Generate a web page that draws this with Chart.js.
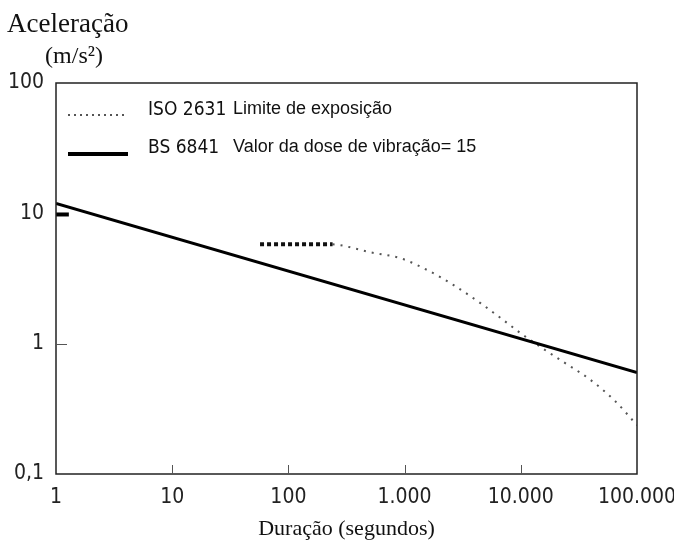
<!DOCTYPE html>
<html>
<head>
<meta charset="utf-8">
<script src="https://cdn.jsdelivr.net/npm/chart.js@4.4.0/dist/chart.umd.min.js"></script>
<style>
html,body{margin:0;padding:0;background:#fff}
#wrap{width:674px;height:544px}
</style>
</head>
<body>
<div id="wrap"><canvas id="grafico"></canvas></div>
<script>
// dados (escala log-log)
var duracaoBS = [1, 100000];
var aceleracaoBS = [11.9, 0.6];

var duracaoISOcheia = [57, 240];
var aceleracaoISOcheia = [5.78, 5.78];

var duracaoISO = [240, 281, 509, 924, 1578, 2644, 4521, 6725, 10000, 14870, 23490, 37840, 63400, 100000];
var aceleracaoISO = [5.78, 5.69, 5.02, 4.52, 3.66, 2.81, 2.04, 1.57, 1.20, 0.94, 0.72, 0.545, 0.37, 0.237];

var marcaX = [1, 1.29];
var marcaY = [9.8, 9.8];

var xTicks = [1, 10, 100, 1000, 10000, 100000];
var xLabels = ['1', '10', '100', '1.000', '10.000', '100.000'];
var yTicks = [0.1, 1, 10, 100];
var yLabels = ['0,1', '1', '10', '100'];

var legendaCodigos = ['ISO 2631', 'BS 6841'];
var legendaTextos = ['Limite de exposição', 'Valor da dose de vibração= 15'];

function pontos(xs, ys) {
  return xs.map(function (x, i) { return {x: x, y: ys[i]}; });
}

var fonteEstreita = '"Liberation Sans Narrow", "DejaVu Sans Condensed", sans-serif';
var fonteSerif = '"Liberation Serif", "Times New Roman", serif';

var extras = {
  id: 'extras',
  afterDraw: function (chart) {
    var c = chart.ctx, a = chart.chartArea;
    var sx = chart.scales.x, sy = chart.scales.y;
    c.save();
    // moldura
    c.strokeStyle = '#222';
    c.lineWidth = 1.5;
    c.strokeRect(a.left, a.top, a.right - a.left, a.bottom - a.top);
    // marcas internas
    c.lineWidth = 1;
    c.strokeStyle = '#555';
    [10, 100, 1000, 10000].forEach(function (v) {
      var px = Math.round(sx.getPixelForValue(v)) + 0.5;
      c.beginPath(); c.moveTo(px, a.bottom); c.lineTo(px, a.bottom - 9); c.stroke();
    });
    var py1 = Math.round(sy.getPixelForValue(1)) + 0.5;
    c.beginPath(); c.moveTo(a.left, py1); c.lineTo(a.left + 11, py1); c.stroke();

    // legenda
    var y1 = a.top + 32, y2 = a.top + 71;
    c.strokeStyle = '#555';
    c.lineWidth = 2;
    c.setLineDash([2, 4]);
    c.beginPath(); c.moveTo(a.left + 12, y1); c.lineTo(a.left + 72, y1); c.stroke();
    c.setLineDash([]);
    c.strokeStyle = '#000';
    c.lineWidth = 4;
    c.beginPath(); c.moveTo(a.left + 12, y2); c.lineTo(a.left + 72, y2); c.stroke();
    c.fillStyle = '#111';
    c.textBaseline = 'middle';
    c.textAlign = 'left';
    c.font = '19px ' + fonteEstreita;
    c.fillText(legendaCodigos[0], a.left + 92, y1 - 5);
    c.fillText(legendaCodigos[1], a.left + 92, y2 - 6);
    c.font = '18px "Liberation Sans", Arial, sans-serif';
    c.fillText(legendaTextos[0], a.left + 177, y1 - 6);
    c.fillText(legendaTextos[1], a.left + 177, y2 - 7);

    // titulo do eixo y
    c.font = '27px ' + fonteSerif;
    c.textAlign = 'left';
    c.fillText('Aceleração', 7, 25);
    c.font = '24px ' + fonteSerif;
    c.textAlign = 'center';
    c.fillText('(m/s²)', 74, 57);
    c.restore();
  }
};

var ctx = document.getElementById('grafico').getContext('2d');
var grafico = new Chart(ctx, {
  type: 'scatter',
  data: {
    datasets: [
      {
        label: 'BS 6841',
        data: pontos(duracaoBS, aceleracaoBS),
        showLine: true,
        borderColor: '#000',
        borderWidth: 3,
        pointRadius: 0
      },
      {
        label: 'ISO 2631 (patamar)',
        data: pontos(duracaoISOcheia, aceleracaoISOcheia),
        showLine: true,
        borderColor: '#111',
        borderWidth: 4,
        borderDash: [4, 3],
        pointRadius: 0
      },
      {
        label: 'ISO 2631',
        data: pontos(duracaoISO, aceleracaoISO),
        showLine: true,
        borderColor: '#555',
        borderWidth: 2,
        borderDash: [2, 6],
        cubicInterpolationMode: 'monotone',
        pointRadius: 0
      },
      {
        label: 'marca',
        data: pontos(marcaX, marcaY),
        showLine: true,
        borderColor: '#000',
        borderWidth: 4,
        pointRadius: 0
      }
    ]
  },
  options: {
    responsive: true,
    maintainAspectRatio: false,
    animation: false,
    layout: {padding: {left: 0, top: 83, right: 37, bottom: 0}},
    plugins: {legend: {display: false}, tooltip: {enabled: false}},
    scales: {
      x: {
        type: 'logarithmic',
        min: 1,
        max: 100000,
        afterBuildTicks: function (s) { s.ticks = xTicks.map(function (v) { return {value: v}; }); },
        afterFit: function (s) { s.height = 70; s.paddingLeft = 0; s.paddingRight = 0; },
        grid: {display: false, drawTicks: false},
        border: {display: false},
        ticks: {
          autoSkip: false,
          maxRotation: 0,
          padding: 11,
          color: '#222',
          font: {family: fonteEstreita, size: 21},
          callback: function (v) { var i = xTicks.indexOf(v); return i < 0 ? '' : xLabels[i]; }
        },
        title: {
          display: true,
          text: 'Duração (segundos)',
          color: '#111',
          font: {family: fonteSerif, size: 22},
          padding: {top: 2, bottom: 2}
        }
      },
      y: {
        type: 'logarithmic',
        min: 0.1,
        max: 100,
        afterBuildTicks: function (s) { s.ticks = yTicks.map(function (v) { return {value: v}; }); },
        afterFit: function (s) { s.width = 56; },
        grid: {display: false, drawTicks: false},
        border: {display: false},
        ticks: {
          autoSkip: false,
          padding: 12,
          color: '#222',
          font: {family: fonteEstreita, size: 21},
          callback: function (v) { var i = yTicks.indexOf(v); return i < 0 ? '' : yLabels[i]; }
        }
      }
    }
  },
  plugins: [extras]
});
</script>
</body>
</html>
